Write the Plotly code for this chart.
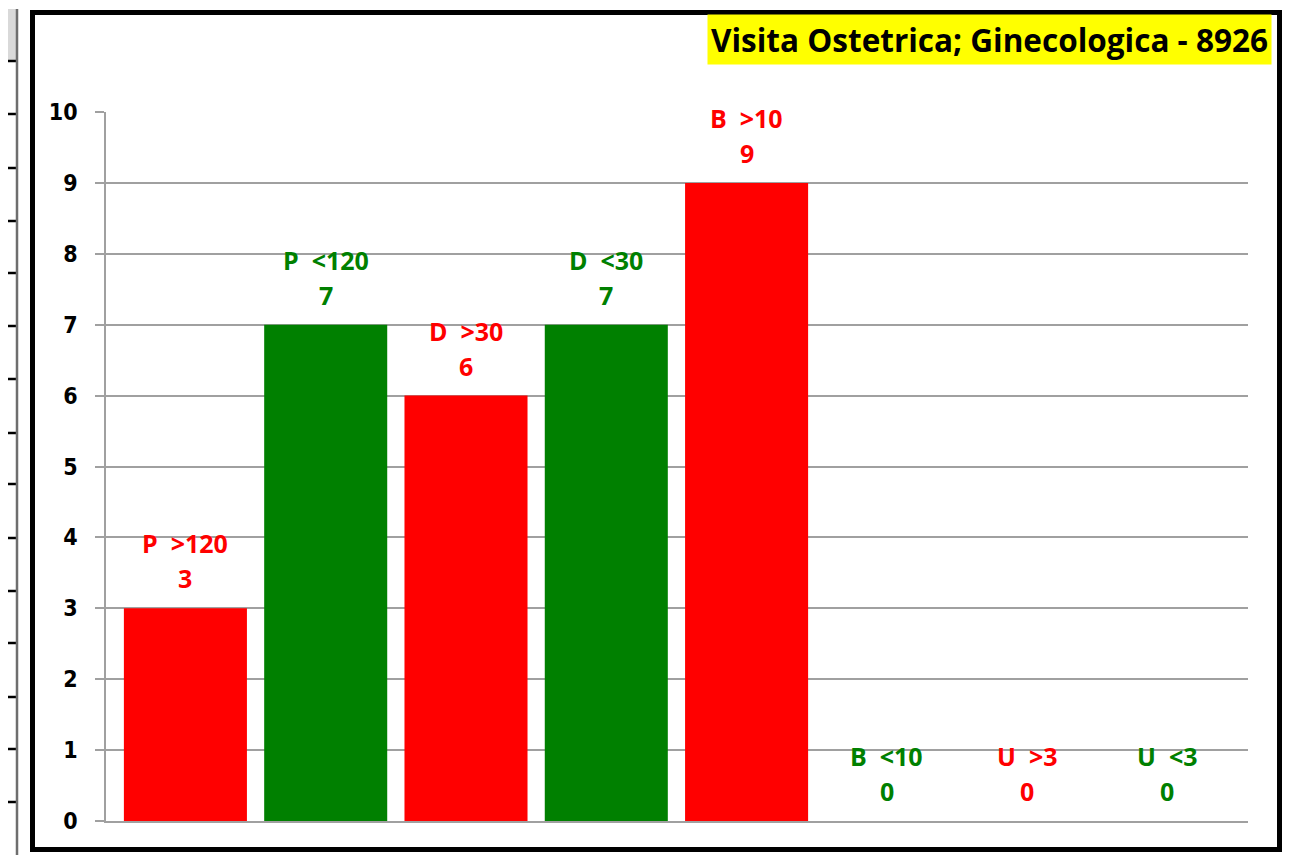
import plotly.graph_objects as go

# ---- data ----
categories = ["P\u00a0 >120", "P\u00a0 <120", "D\u00a0 >30", "D\u00a0 <30",
              "B\u00a0 >10", "B\u00a0 <10", "U\u00a0 >3", "U\u00a0 <3"]
values = [3, 7, 6, 7, 9, 0, 0, 0]
title_text = "Visita Ostetrica; Ginecologica - 8926"
y_ticks = list(range(0, 11))

RED = "#FF0000"
GREEN = "#008000"
colors = [RED if ">" in c else GREEN for c in categories]

OFF = 8                      # body margin of the html page
W, H = 1312 - OFF, 855 - OFF
L, R, T, B = 106, 1248, 112, 821  # plot area in page pixels


def px(x):
    return (x - L) / (R - L)


def py(y):
    return (B - y) / (B - T)


fig = go.Figure()
fig.add_trace(go.Bar(
    x=categories, y=values,
    marker=dict(color=colors, line=dict(width=0)),
    hoverinfo="skip",
))

LABEL_FONT = "Open Sans"
annotations = []
for c, v, col in zip(categories, values, colors):
    annotations.append(dict(x=c, y=v, xref="x", yref="y", text=f"<b>{v}</b>",
                            showarrow=False, yanchor="middle", yshift=30,
                            font=dict(family=LABEL_FONT, size=25, color=col)))
    annotations.append(dict(x=c, y=v, xref="x", yref="y", text=f"<b>{c}</b>",
                            showarrow=False, yanchor="middle", yshift=65,
                            font=dict(family=LABEL_FONT, size=25, color=col)))

annotations.append(dict(
    x=px(1272), y=py(40), xref="paper", yref="paper",
    xanchor="right", yanchor="middle", showarrow=False,
    text=f"<b>{title_text}</b>", bgcolor="#FFFF00", borderpad=3,
    font=dict(family=LABEL_FONT, size=31.5, color="black"),
))

shapes = []
# spreadsheet fragment at left
shapes.append(dict(type="rect", xref="paper", yref="paper",
                   x0=px(0), x1=px(16), y0=py(9), y1=py(61),
                   fillcolor="#D9D9D9", line=dict(width=0), layer="below"))
for yy in [61, 114, 168, 221, 273, 326, 379, 433, 484, 538, 591, 643, 697, 749, 802]:
    shapes.append(dict(type="line", xref="paper", yref="paper",
                       x0=px(0), x1=px(16), y0=py(yy), y1=py(yy),
                       line=dict(color="black", width=2.5)))
shapes.append(dict(type="line", xref="paper", yref="paper",
                   x0=px(17), x1=px(17), y0=py(9), y1=py(860),
                   line=dict(color="#6E6E6E", width=2.5)))
# chart frame
shapes.append(dict(type="rect", xref="paper", yref="paper",
                   x0=px(32.5), x1=px(1279.5), y0=py(12.5), y1=py(849.5),
                   line=dict(color="black", width=5), layer="below"))

fig.update_layout(
    width=W, height=H,
    margin=dict(l=L - OFF, r=W - (R - OFF), t=T - OFF, b=H - (B - OFF)),
    paper_bgcolor="white", plot_bgcolor="white",
    showlegend=False,
    bargap=0.123,
    annotations=annotations,
    shapes=shapes,
    xaxis=dict(showticklabels=False, ticks="", showgrid=False,
               range=[-0.566, len(categories) - 0.426],
               showline=True, linecolor="#A0A0A0", linewidth=1.5,
               zeroline=False, fixedrange=True),
    yaxis=dict(range=[0, 10], tickvals=y_ticks, showgrid=True,
               gridcolor="#A0A0A0", gridwidth=1.5,
               showline=True, linecolor="#A0A0A0", linewidth=1.5,
               ticks="outside", ticklen=9, tickcolor="#A0A0A0", tickwidth=1.5,
               ticklabelstandoff=13, zeroline=False,
               tickfont=dict(family="DejaVu Sans Condensed, DejaVu Sans", size=23,
                             color="black", weight="bold"),
               fixedrange=True),
)

fig.write_html("out.html")
